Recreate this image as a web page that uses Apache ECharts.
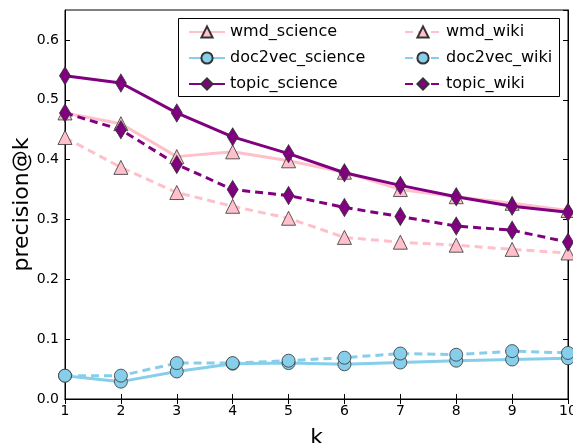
<!DOCTYPE html>
<html><head><meta charset="utf-8">
<script src="https://cdn.jsdelivr.net/npm/echarts@6/dist/echarts.min.js"></script>
<style>html,body{margin:0;padding:0;background:#fff}#c{width:573px;height:443px}</style>
</head><body><div id="c"></div>
<script>
const ks = [1,2,3,4,5,6,7,8,9,10];
const yTicks = [0.0,0.1,0.2,0.3,0.4,0.5,0.6];
const wmd_science = [0.478,0.46,0.405,0.413,0.398,0.379,0.35,0.338,0.327,0.315];
const doc2vec_science = [0.039,0.029,0.046,0.059,0.06,0.058,0.061,0.064,0.066,0.068];
const topic_science = [0.54,0.528,0.478,0.438,0.41,0.378,0.357,0.338,0.322,0.312];
const wmd_wiki = [0.437,0.387,0.345,0.322,0.302,0.27,0.262,0.257,0.25,0.244];
const doc2vec_wiki = [0.039,0.039,0.06,0.06,0.064,0.069,0.076,0.074,0.08,0.077];
const topic_wiki = [0.478,0.45,0.392,0.35,0.34,0.32,0.305,0.289,0.282,0.262];

const FONT = 'DejaVu Sans';
const pink = '#FFC0CB', blue = '#87CEEB', purple = '#800080';
function pairs(v){ return ks.map((k,i)=>[k,v[i]]); }
function mk(name, data, color, symbol, size, dashed, fill){
  return {
    name, type:'line', data:pairs(data), symbol, symbolSize:size,
    showAllSymbol:true,
    lineStyle:{color, width:3, type: dashed ? [8,5] : 'solid'},
    itemStyle:{color: fill, borderColor:'#333', borderWidth:0.8},
    emphasis:{disabled:true}, animation:false
  };
}
const tri = 'triangle', circ = 'circle', dia = 'diamond';
const series = [
  mk('wmd_science', wmd_science, pink, tri, 14, false, pink),
  mk('doc2vec_science', doc2vec_science, blue, circ, 13, false, blue),
  mk('topic_science', topic_science, purple, dia, [11,18], false, purple),
  mk('wmd_wiki', wmd_wiki, pink, tri, 14, true, pink),
  mk('doc2vec_wiki', doc2vec_wiki, blue, circ, 13, true, blue),
  mk('topic_wiki', topic_wiki, purple, dia, [11,18], true, purple)
];
const axisLine = {show:true, lineStyle:{color:'#000', width:1}};
const chart = echarts.init(document.getElementById('c'), null, {renderer:'canvas'});
const legendCommon = {
  orient:'vertical', itemWidth:36, itemHeight:14, itemGap:10,
  textStyle:{fontFamily:FONT, fontSize:16, color:'#000'},
  selectedMode:false, padding:0
};
chart.setOption({
  animation:false,
  backgroundColor:'#fff',
  grid:{left:65, right:5, top:10, bottom:44, show:true, borderColor:'#000', borderWidth:1,
        containLabel:false, outerBoundsMode:'none'},
  legend:[
    Object.assign({left:188, top:24, data:['wmd_science','doc2vec_science','topic_science']}, legendCommon),
    Object.assign({left:404, top:24, data:['wmd_wiki','doc2vec_wiki','topic_wiki']}, legendCommon)
  ],
  graphic:[{type:'rect', shape:{x:178.5, y:18.5, width:381, height:78}, style:{fill:'rgba(255,255,255,0)', stroke:'#000', lineWidth:1}, z:-1}],
  xAxis:[
    {type:'value', min:1, max:10, interval:1, name:'k', nameLocation:'middle', nameGap:28,
     nameMoveOverlap:false,
     nameTextStyle:{fontFamily:FONT, fontSize:22, color:'#000'},
     axisLine, axisTick:{inside:true, length:5, lineStyle:{color:'#000'}},
     axisLabel:{fontFamily:FONT, fontSize:14, color:'#000', margin:5},
     splitLine:{show:false}},
    {type:'value', min:1, max:10, interval:1, position:'top', axisLine,
     axisTick:{inside:true, length:5, lineStyle:{color:'#000'}},
     axisLabel:{show:false}, splitLine:{show:false}}
  ],
  yAxis:[
    {type:'value', min:0, max:0.65, interval:0.1, name:'precision@k', nameLocation:'middle', nameGap:32,
     nameMoveOverlap:false,
     nameTextStyle:{fontFamily:FONT, fontSize:22, color:'#000'},
     axisLine, axisTick:{inside:true, length:5, lineStyle:{color:'#000'}},
     axisLabel:{fontFamily:FONT, fontSize:14, color:'#000', margin:6, showMaxLabel:false,
       formatter:v=>yTicks.some(t=>Math.abs(t-v)<1e-9)?v.toFixed(1):''},
     splitLine:{show:false}},
    {type:'value', min:0, max:0.65, interval:0.1, position:'right', axisLine,
     axisTick:{inside:true, length:5, lineStyle:{color:'#000'}},
     axisLabel:{show:false}, splitLine:{show:false}}
  ],
  series
});
</script></body></html>
